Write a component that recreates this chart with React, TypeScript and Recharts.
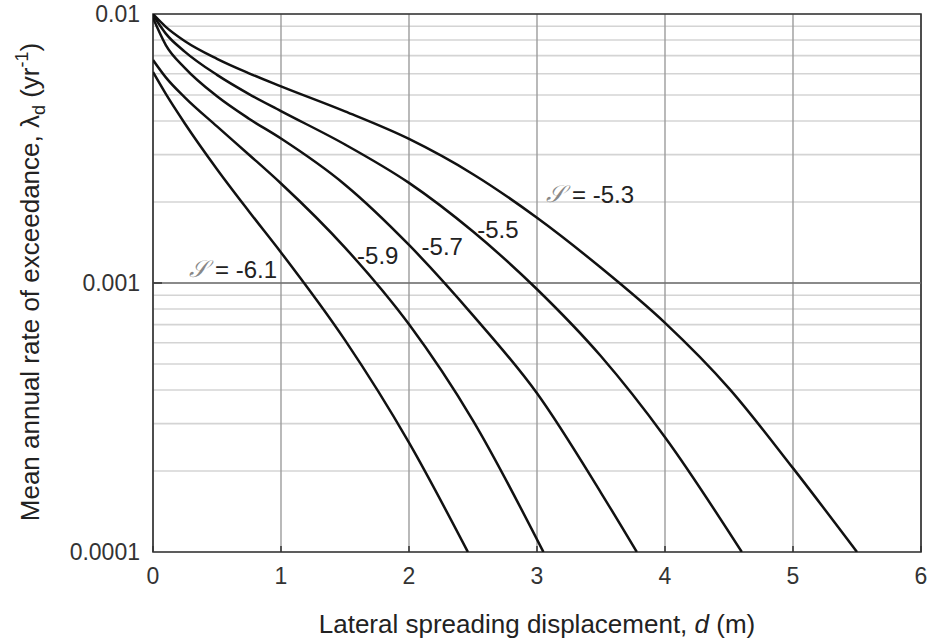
import React from 'react';
import {
  LineChart,
  Line,
  XAxis,
  YAxis,
  CartesianGrid,
  ReferenceArea,
  ReferenceLine,
  ReferenceDot,
} from 'recharts';

if (typeof document !== 'undefined') {
  document.body.style.margin = '0';
}

const FONT = '"Liberation Sans", Arial, Helvetica, sans-serif';

// ---- axis ticks ----
const xTicks = [0, 1, 2, 3, 4, 5, 6];
const yMajorTicks = [0.0001, 0.001, 0.01];
const yTickLabels = ['0.0001', '0.001', '0.01'];
const yMinorTicks = [
  0.0002, 0.0003, 0.0004, 0.0005, 0.0006, 0.0007, 0.0008, 0.0009,
  0.002, 0.003, 0.004, 0.005, 0.006, 0.007, 0.008, 0.009,
];

// ---- series: displacement d (m) vs mean annual rate of exceedance ----
const curveS53 = [
  { d: 0, lam: 0.01 },
  { d: 0.1, lam: 0.00896 },
  { d: 0.25, lam: 0.00792 },
  { d: 0.5, lam: 0.006813 },
  { d: 0.75, lam: 0.00602 },
  { d: 1.0, lam: 0.005381 },
  { d: 1.5, lam: 0.004343 },
  { d: 2.0, lam: 0.003431 },
  { d: 2.5, lam: 0.002538 },
  { d: 3.0, lam: 0.001748 },
  { d: 3.5, lam: 0.001139 },
  { d: 4.0, lam: 0.000711 },
  { d: 4.5, lam: 0.000406 },
  { d: 5.0, lam: 0.000205 },
  { d: 5.5, lam: 0.0001 },
];

const curveS55 = [
  { d: 0, lam: 0.009915 },
  { d: 0.1, lam: 0.008453 },
  { d: 0.25, lam: 0.007234 },
  { d: 0.5, lam: 0.005938 },
  { d: 0.75, lam: 0.005038 },
  { d: 1.0, lam: 0.004355 },
  { d: 1.5, lam: 0.003273 },
  { d: 2.0, lam: 0.002356 },
  { d: 2.5, lam: 0.001553 },
  { d: 3.0, lam: 0.000948 },
  { d: 3.5, lam: 0.000534 },
  { d: 4.0, lam: 0.000267 },
  { d: 4.6, lam: 0.0001 },
];

const curveS57 = [
  { d: 0, lam: 0.009663 },
  { d: 0.1, lam: 0.007667 },
  { d: 0.25, lam: 0.006296 },
  { d: 0.5, lam: 0.004944 },
  { d: 0.75, lam: 0.004081 },
  { d: 1.0, lam: 0.003443 },
  { d: 1.5, lam: 0.00232 },
  { d: 2.0, lam: 0.001385 },
  { d: 2.5, lam: 0.000758 },
  { d: 3.0, lam: 0.000389 },
  { d: 3.5, lam: 0.000166 },
  { d: 3.78, lam: 0.0001 },
];

const curveS59 = [
  { d: 0, lam: 0.006743 },
  { d: 0.1, lam: 0.005812 },
  { d: 0.25, lam: 0.004889 },
  { d: 0.5, lam: 0.003821 },
  { d: 0.75, lam: 0.002999 },
  { d: 1.0, lam: 0.002344 },
  { d: 1.5, lam: 0.001354 },
  { d: 2.0, lam: 0.000702 },
  { d: 2.5, lam: 0.000308 },
  { d: 3.05, lam: 0.0001 },
];

const curveS61 = [
  { d: 0, lam: 0.006082 },
  { d: 0.1, lam: 0.005046 },
  { d: 0.25, lam: 0.00391 },
  { d: 0.5, lam: 0.002649 },
  { d: 0.75, lam: 0.001845 },
  { d: 1.0, lam: 0.001299 },
  { d: 1.5, lam: 0.000613 },
  { d: 2.0, lam: 0.000255 },
  { d: 2.46, lam: 0.0001 },
];

const seriesList = [
  { key: 's53', data: curveS53 },
  { key: 's55', data: curveS55 },
  { key: 's57', data: curveS57 },
  { key: 's59', data: curveS59 },
  { key: 's61', data: curveS61 },
];

// ---- curve annotations (anchor in data space) ----
const labelValues = ['-6.1', '-5.9', '-5.7', '-5.5', '-5.3'];
const labelAnchorD = [0.627, 1.756, 2.26, 2.694, 3.416];
const labelAnchorLam = [0.001124, 0.001268, 0.00137, 0.001585, 0.002138];
const labelHasSymbol = [true, false, false, false, true];

const XTick = (props: any) => {
  const { x, y, payload } = props;
  return (
    <g>
      <line x1={x} y1={y} x2={x} y2={y - 6} stroke="#333" strokeWidth={1.5} />
      <text x={x} y={y + 32} textAnchor="middle" fontSize={23} fontFamily={FONT} fill="#333">
        {payload.value}
      </text>
    </g>
  );
};

const YTick = (props: any) => {
  const { x, y, payload } = props;
  const idx = yMajorTicks.indexOf(payload.value);
  if (idx < 0) return <g />;
  return (
    <g>
      {idx === 1 && <line x1={x} y1={y} x2={x + 9} y2={y} stroke="#333" strokeWidth={1.5} />}
      <text x={x - 13} y={y + 8} textAnchor="end" fontSize={23} fontFamily={FONT} fill="#333">
        {yTickLabels[idx]}
      </text>
    </g>
  );
};

const XTitle = () => (
  <text x={537} y={633} textAnchor="middle" fontSize={26} fontFamily={FONT} fill="#222">
    Lateral spreading displacement, <tspan fontStyle="italic">d</tspan> (m)
  </text>
);

const YTitle = () => (
  <text
    transform="translate(39,282) rotate(-90)"
    textAnchor="middle"
    fontSize={26}
    fontFamily={FONT}
    fill="#222"
  >
    Mean annual rate of exceedance, λ
    <tspan fontSize={18} dy={6}>d</tspan>
    <tspan dy={-6}> (yr</tspan>
    <tspan fontSize={18} dy={-11}>-1</tspan>
    <tspan dy={11}>)</tspan>
  </text>
);

const makeLabelShape = (i: number) => (p: any) => (
  <text
    x={p.cx}
    y={p.cy}
    textAnchor="middle"
    dominantBaseline="central"
    fontSize={24}
    fontFamily={FONT}
    fill="#222"
  >
    {labelHasSymbol[i] && (
      <tspan fill="#888" fontStyle="italic" fontFamily='"DejaVu Serif", "DejaVu Sans", serif'>
        𝒮
      </tspan>
    )}
    {labelHasSymbol[i] ? ' = ' : ''}
    {labelValues[i]}
  </text>
);

export default function App() {
  const yTicksAll = [...yMajorTicks, ...yMinorTicks].sort((a, b) => a - b);
  return (
    <div style={{ width: 929, height: 641, background: '#fff' }}>
      <LineChart width={929} height={641} margin={{ top: 14, right: 8, left: 0, bottom: 0 }}>
        <CartesianGrid vertical={false} stroke="#d4d4d4" strokeWidth={1.6} />
        <CartesianGrid horizontal={false} stroke="#9c9c9c" strokeWidth={1.4} />
        <XAxis
          dataKey="d"
          type="number"
          domain={[0, 6]}
          ticks={xTicks}
          interval={0}
          allowDataOverflow
          axisLine={false}
          tickLine={false}
          tickSize={0}
          tickMargin={0}
          height={89}
          tick={<XTick />}
          label={{ content: () => <XTitle /> }}
        />
        <YAxis
          type="number"
          scale="log"
          domain={[0.0001, 0.01]}
          ticks={yTicksAll}
          interval={0}
          allowDataOverflow
          axisLine={false}
          tickLine={false}
          tickSize={0}
          tickMargin={0}
          width={153}
          tick={<YTick />}
          tickFormatter={() => ''}
          label={{ content: () => <YTitle /> }}
        />
        <ReferenceLine y={0.001} stroke="#6e6e6e" strokeWidth={1.5} />
        <ReferenceArea x1={0} x2={6} y1={0.0001} y2={0.01} fill="none" stroke="#333" strokeWidth={1.6} />
        {seriesList.map((s) => (
          <Line
            key={s.key}
            data={s.data}
            dataKey="lam"
            type="monotone"
            stroke="#111"
            strokeWidth={2.5}
            dot={false}
            activeDot={false}
            isAnimationActive={false}
          />
        ))}
        {labelValues.map((v, i) => (
          <ReferenceDot
            key={v}
            x={labelAnchorD[i]}
            y={labelAnchorLam[i]}
            r={0}
            shape={makeLabelShape(i)}
          />
        ))}
      </LineChart>
    </div>
  );
}
